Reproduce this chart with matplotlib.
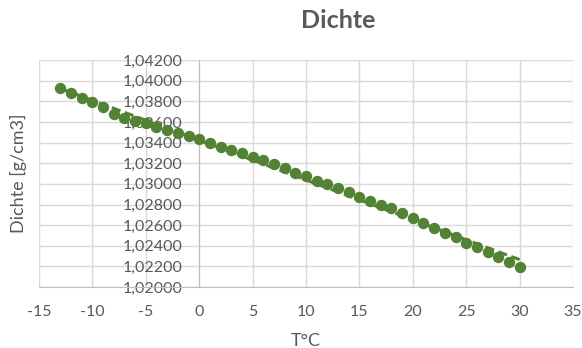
import numpy as np
import matplotlib
matplotlib.use("Agg")
import matplotlib.pyplot as plt
from matplotlib.ticker import FuncFormatter, MultipleLocator

# temperature in °C and measured density in g/cm3
temperature = list(range(-13, 31))
density = [
    1.03926, 1.03877, 1.03832, 1.03792, 1.03740, 1.03680, 1.03638, 1.03612,
    1.03587, 1.03548, 1.03520, 1.03490, 1.03463, 1.03434, 1.03400, 1.03360,
    1.03330, 1.03296, 1.03263, 1.03228, 1.03196, 1.03156, 1.03105, 1.03076,
    1.03030, 1.02998, 1.02957, 1.02918, 1.02875, 1.02836, 1.02795, 1.02763,
    1.02714, 1.02671, 1.02617, 1.02569, 1.02526, 1.02482, 1.02429, 1.02385,
    1.02342, 1.02294, 1.02245, 1.02197,
]

GREEN = "#548235"
TEXT = "#595959"
GRID = "#d9d9d9"

plt.rcParams["font.family"] = ["Lato", "DejaVu Sans"]
plt.rcParams["axes.unicode_minus"] = False

fig = plt.figure(figsize=(5.82, 3.48), dpi=100)
ax = fig.add_axes([0.067, 0.175, 0.9175, 0.6526])

x = np.array(temperature, dtype=float)
y = np.array(density)

# linear trendline
coef = np.polyfit(x, y, 1)
ax.plot(x, np.polyval(coef, x), linestyle=(0, (3, 1.5)), color=GREEN,
        linewidth=2.2, zorder=3)
ax.plot(x, y, "o", color=GREEN, markersize=7.2, zorder=4)

ax.set_xlim(-15, 35)
ax.set_ylim(1.02, 1.042)
ax.xaxis.set_major_locator(MultipleLocator(5))
ax.yaxis.set_major_locator(MultipleLocator(0.002))
ax.yaxis.set_major_formatter(FuncFormatter(lambda v, p: f"{v:.5f}".replace(".", ",")))

ax.grid(True, color=GRID, linewidth=1.0)
ax.set_axisbelow(True)
for s in ["top", "right"]:
    ax.spines[s].set_visible(False)
ax.spines["left"].set_position(("data", 0))
ax.spines["left"].set_color("#bfbfbf")
ax.spines["bottom"].set_color("#bfbfbf")
ax.spines["left"].set_zorder(2)

ax.tick_params(axis="both", length=0, colors=TEXT, labelsize=11.5)
ax.tick_params(axis="y", pad=12)
ax.tick_params(axis="x", pad=13)

ax.set_ylabel("Dichte [g/cm3]", color=TEXT, fontsize=13)
ax.yaxis.set_label_coords(-0.022, 0.5)
ax.set_xlabel("T°C", color=TEXT, fontsize=13, labelpad=10)

fig.text(338 / 582, 1 - 20 / 348, "Dichte", ha="center", va="center",
         fontsize=18, fontweight="bold", color=TEXT)

fig.savefig("out.png", dpi=100)
